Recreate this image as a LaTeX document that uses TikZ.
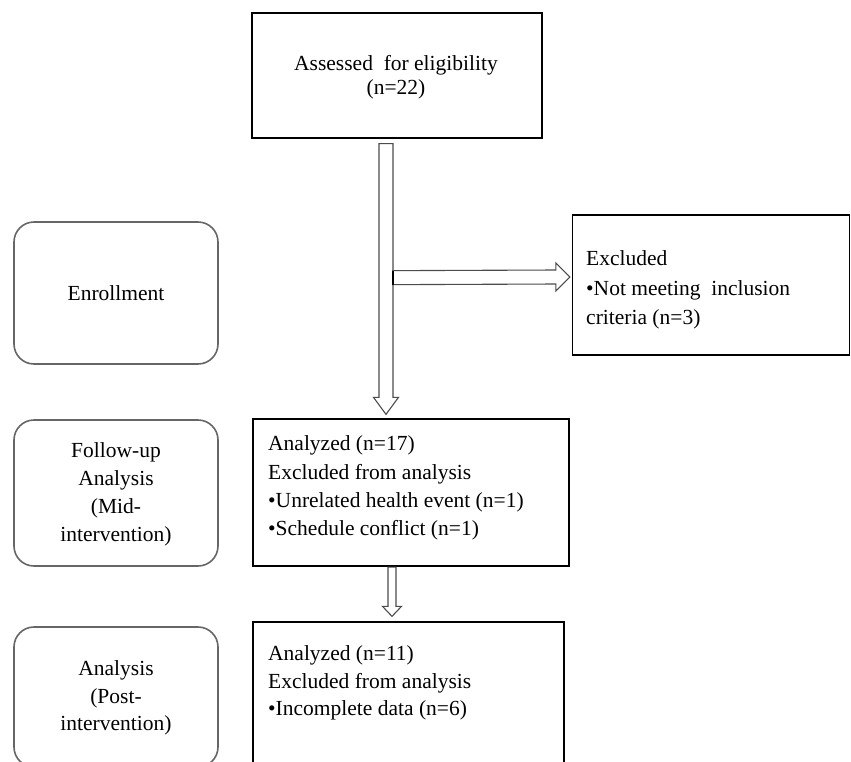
\documentclass[tikz,border=0pt]{standalone}
\usepackage{fontspec}
\setmainfont{Liberation Serif}
\usetikzlibrary{calc}
\begin{document}
\begin{tikzpicture}[x=1pt,y=-1pt,
  box/.style={draw=black, line width=1.3pt, rectangle, inner sep=0pt},
  stagebox/.style={draw=black!60, line width=1.6pt, rectangle, rounded corners=20pt, inner sep=0pt, minimum width=204pt},
  txt/.style={inner sep=0pt, font=\fontsize{21.5}{28}\selectfont},
  lt/.style={txt, anchor=base west},
  ct/.style={txt, anchor=base},
  blockarrow/.style={draw=black!70, line width=1.1pt, fill=white, line join=miter}]
\useasboundingbox (0,0) rectangle (851,761);
\clip (0,0) rectangle (851,761);
\fill[white] (0,0) rectangle (851,761);

% main boxes
\node[box, minimum width=290pt, minimum height=125pt] (assess) at (397,75.5) {};
\node[box, minimum width=277pt, minimum height=140pt] (excl) at (711,285) {};
\node[box, minimum width=316pt, minimum height=147pt] (n17) at (411,492.5) {};
\node[box, minimum width=311pt, minimum height=170pt] (n11) at (408.5,707) {};

% stage boxes
\node[stagebox, minimum height=142pt] (enrol) at (116,293) {};
\node[stagebox, minimum height=146pt] (follow) at (116,493) {};
\node[stagebox, minimum height=140pt] (post) at (116,697) {};

% texts
\node[ct] (assessA) at (396,70) {Assessed\ \ for eligibility};
\node[ct] (assessB) at (396,94) {(n=22)};

\node[lt] (exclA) at (586,265) {Excluded};
\node[lt] (exclB) at (586,295) {•Not meeting\ \ inclusion};
\node[lt] (exclC) at (586,324) {criteria (n=3)};

\node[lt] (n17A) at (268,450) {Analyzed (n=17)};
\node[lt] (n17B) at (268,479) {Excluded from analysis};
\node[lt] (n17C) at (268,507) {•Unrelated health event (n=1)};
\node[lt] (n17D) at (268,535) {•Schedule conflict (n=1)};

\node[lt] (n11A) at (268,660) {Analyzed (n=11)};
\node[lt] (n11B) at (268,688) {Excluded from analysis};
\node[lt] (n11C) at (268,715) {•Incomplete data (n=6)};

\node[ct] (enrolA) at (116,300) {Enrollment};

\node[ct] (followA) at (116,457) {Follow-up};
\node[ct] (followB) at (116,485) {Analysis};
\node[ct] (followC) at (116,513) {(Mid-};
\node[ct] (followD) at (116,541) {intervention)};

\node[ct] (postA) at (116,675) {Analysis};
\node[ct] (postB) at (116,703) {(Post-};
\node[ct] (postC) at (116,730) {intervention)};

% arrow 1: assess -> n17
\coordinate (a1top) at ($(assess.south)+(-11,5)$);
\coordinate (a1tip) at ($(n17.north)+(-25,-4)$);
\draw[blockarrow] ($(a1top)+(-7,0)$) -- ($(a1top)+(7,0)$)
  -- ($(a1tip)+(7,-17)$) -- ($(a1tip)+(12.5,-17)$) -- (a1tip)
  -- ($(a1tip)+(-12.5,-17)$) -- ($(a1tip)+(-7,-17)$) -- cycle;

% arrow 2: branch -> excl
\coordinate (a2tip) at ($(excl.west)+(-2,-8)$);
\coordinate (a2base) at ($(a1top)+(7,134)$);
\draw[blockarrow] ($(a2base)+(0,-7)$) -- ($(a2tip)+(-14,-7)$) -- ($(a2tip)+(-14,-14)$)
  -- (a2tip) -- ($(a2tip)+(-14,14)$) -- ($(a2tip)+(-14,7)$) -- ($(a2base)+(0,7)$) -- cycle;
\draw[black, line width=1.8pt] ($(a2base)+(0,-7)$) -- ($(a2base)+(0,7)$);

% arrow 3: n17 -> n11
\coordinate (a3top) at ($(n17.south)+(-19,0.5)$);
\coordinate (a3tip) at ($(n11.north)+(-16.5,-5)$);
\draw[blockarrow] ($(a3top)+(-4,0)$) -- ($(a3top)+(4,0)$)
  -- ($(a3tip)+(4,-10)$) -- ($(a3tip)+(9.5,-10)$) -- (a3tip)
  -- ($(a3tip)+(-9.5,-10)$) -- ($(a3tip)+(-4,-10)$) -- cycle;
\end{tikzpicture}
\end{document}
